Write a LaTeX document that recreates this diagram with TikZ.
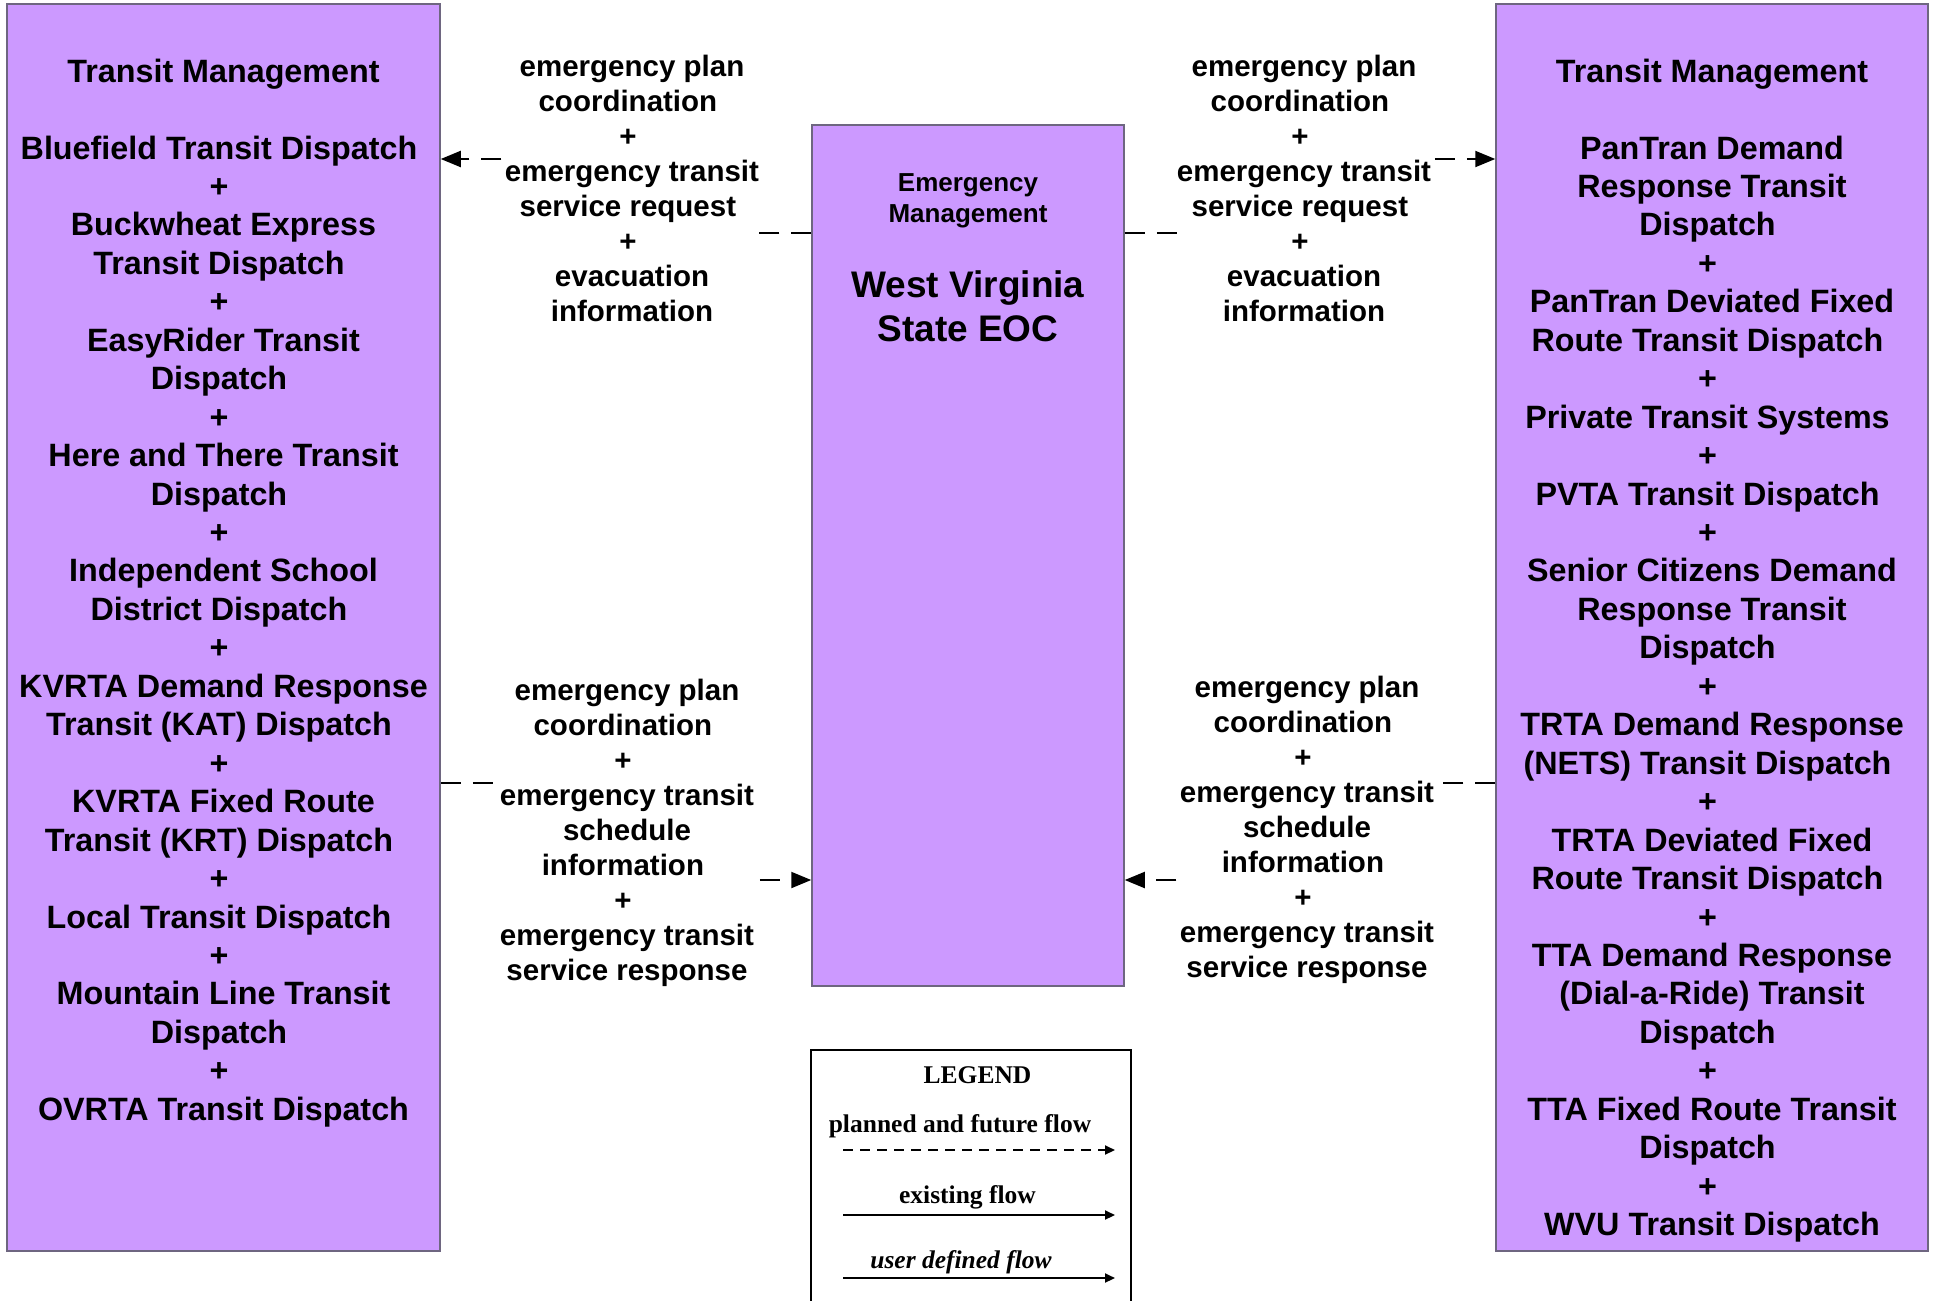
\documentclass[tikz,border=0pt]{standalone}
\usepackage{fontspec}
\setmainfont{Liberation Sans}
\newfontfamily\legendfont{Liberation Serif}
\usetikzlibrary{arrows.meta}
\definecolor{tmpurple}{HTML}{CC99FF}
\definecolor{tmedge}{HTML}{6E6680}
% end of an item, then the plus line
\newcommand\nxt{\kern.278em\\+\kern.278em\\}
\tikzset {>={Triangle[length=20pt,width=16pt]},
  tmbox/.style={draw=tmedge,line width=1.5pt,fill=tmpurple,inner sep=0pt},
  boxtext/.style={align=center,inner sep=0pt,anchor=north,font=\fontsize{32.3}{38.45}\selectfont\bfseries},
  flowlab/.style={align=center,inner sep=0pt,anchor=north,fill=white,font=\fontsize{29.5}{35}\selectfont\bfseries},
  flow/.style={line width=2pt,dash pattern=on 20pt off 12pt,->},
  legflow/.style={line width=2pt,-{Triangle[length=10pt,width=9pt]}},
  legtext/.style={inner sep=0pt,anchor=base,font=\legendfont\fontsize{25.5}{30}\selectfont\bfseries}}

\begin{document}
\begin{tikzpicture}[x=1pt,y=-1pt]
\useasboundingbox (0,0) rectangle (1933,1301);
% boxes
\node[tmbox,minimum width=433pt,minimum height=1247pt] (TMW) at (223.5,627.5) {};
\node[tmbox,minimum width=432pt,minimum height=1247pt] (TME) at (1712,627.5) {};
\node[tmbox,minimum width=312pt,minimum height=861pt] (EM) at (968,555.5) {};
\node[boxtext] (TMWtext) at (223.5,58.5) {Transit Management\\[38.45pt]
Bluefield Transit Dispatch\nxt Buckwheat Express\\Transit Dispatch\nxt
EasyRider Transit\\Dispatch\nxt Here and There Transit\\Dispatch\nxt
Independent School\\District Dispatch\nxt KVRTA Demand Response\\
Transit (KAT) Dispatch\nxt KVRTA Fixed Route\\Transit (KRT) Dispatch\nxt
Local Transit Dispatch\nxt Mountain Line Transit\\Dispatch\nxt
OVRTA Transit Dispatch};
\node[boxtext] (TMEtext) at (1712,58.5) {Transit Management\\[38.45pt]
PanTran Demand\\Response Transit\\Dispatch\nxt PanTran Deviated Fixed\\
Route Transit Dispatch\nxt Private Transit Systems\nxt PVTA Transit Dispatch\nxt
Senior Citizens Demand\\Response Transit\\Dispatch\nxt TRTA Demand Response\\
(NETS) Transit Dispatch\nxt TRTA Deviated Fixed\\Route Transit Dispatch\nxt
TTA Demand Response\\(Dial-a-Ride) Transit\\Dispatch\nxt
TTA Fixed Route Transit\\Dispatch\nxt WVU Transit Dispatch};
\node[boxtext,font=\fontsize{26}{31.5}\selectfont\bfseries] (EMtype) at (968,173.4) {Emergency\\Management};
\node[boxtext,font=\fontsize{37}{44}\selectfont\bfseries] (EMname) at (968,270.5) {West Virginia\\State EOC};
% flows
\coordinate (tl) at (632,190);
\coordinate (tr) at (1304,190);
\coordinate (bl) at (627,832);
\coordinate (br) at (1307,830);
\draw[flow] (EM.west |- 0,233) -| (tl) |- (TMW.east |- 0,159);
\draw[flow] (EM.east |- 0,233) -| (tr) |- (TME.west |- 0,159);
\draw[flow] (TMW.east |- 0,783) -| (bl) |- (EM.west |- 0,880);
\draw[flow] (TME.west |- 0,783) -| (br) |- (EM.east |- 0,880);
\node[flowlab] (tllab) at (632,55) {emergency plan\\coordination\nxt emergency transit\\service request\nxt evacuation\\information};
\node[flowlab] (trlab) at (1304,55) {emergency plan\\coordination\nxt emergency transit\\service request\nxt evacuation\\information};
\node[flowlab] (bllab) at (627,678.5) {emergency plan\\coordination\nxt emergency transit\\schedule\\information\nxt emergency transit\\service response};
\node[flowlab] (brlab) at (1307,675.5) {emergency plan\\coordination\nxt emergency transit\\schedule\\information\nxt emergency transit\\service response};
% legend
\node[draw,line width=2pt,minimum width=320pt,minimum height=290pt] (LEG) at (971,1195) {};
\node[legtext] (legtitle) at (977.5,1083) {LEGEND};
\node[legtext] (legplan) at (960,1132) {planned and future flow};
\node[legtext] (legexist) at (967.5,1203) {existing flow};
\node[legtext,font=\legendfont\fontsize{25.5}{30}\selectfont\bfseries\itshape] (leguser) at (961,1268) {user defined flow};
\coordinate (p1) at (843,1150);
\coordinate (p2) at (1115,1150);
\coordinate (e1) at (843,1215);
\coordinate (e2) at (1115,1215);
\coordinate (u1) at (843,1278);
\coordinate (u2) at (1115,1278);
\draw[legflow,dash pattern=on 10pt off 7pt] (p1) -- (p2);
\draw[legflow] (e1) -- (e2);
\draw[legflow] (u1) -- (u2);
\end{tikzpicture}
\end{document}
